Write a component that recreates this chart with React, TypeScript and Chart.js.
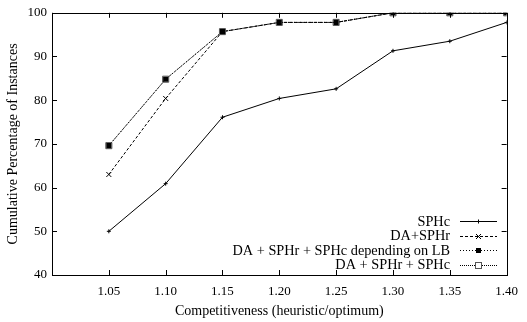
import React, { useEffect, useRef } from "react";
import { Chart, registerables } from "chart.js";
Chart.register(...registerables);

const competitiveness = [1.05, 1.1, 1.15, 1.2, 1.25, 1.3, 1.35, 1.4];
const sphc = [50.0, 60.9, 76.1, 80.4, 82.6, 91.3, 93.5, 97.8];
const daSphr = [63.0, 80.4, 95.7, 97.8, 97.8, 100, 100, 100];
const daSphrSphcLB = [69.6, 84.8, 95.7, 97.8, 97.8, 100, 100, 100];
const daSphrSphc = [69.6, 84.8, 95.7, 97.8, 97.8, 100, 100, 100];
const seriesNames = [
  "SPHc",
  "DA+SPHr",
  "DA + SPHr + SPHc depending on LB",
  "DA + SPHr + SPHc",
];
const xTitle = "Competitiveness (heuristic/optimum)";
const yTitle = "Cumulative Percentage of Instances";

const FONT = "'Liberation Serif', 'DejaVu Serif', serif";

type Marker = "plus" | "x" | "fsquare" | "osquare";
const markers: Marker[] = ["plus", "x", "fsquare", "osquare"];
const dashes: number[][] = [[], [3, 2], [1, 2], [1, 1]];

function drawMarker(ctx: CanvasRenderingContext2D, m: Marker, x: number, y: number) {
  ctx.save();
  ctx.setLineDash([]);
  ctx.strokeStyle = "#000";
  ctx.fillStyle = "#000";
  ctx.lineWidth = 1;
  ctx.beginPath();
  if (m === "plus") {
    ctx.moveTo(x - 2, y);
    ctx.lineTo(x + 2, y);
    ctx.moveTo(x, y - 2);
    ctx.lineTo(x, y + 2);
    ctx.stroke();
  } else if (m === "x") {
    ctx.moveTo(x - 2.5, y - 2.5);
    ctx.lineTo(x + 2.5, y + 2.5);
    ctx.moveTo(x - 2.5, y + 2.5);
    ctx.lineTo(x + 2.5, y - 2.5);
    ctx.stroke();
  } else if (m === "fsquare") {
    ctx.fillRect(x - 2.5, y - 2.5, 5, 5);
  } else {
    ctx.fillStyle = "#fff";
    ctx.fillRect(x - 3, y - 3, 6, 6);
    ctx.strokeStyle = "#555";
    ctx.strokeRect(x - 3, y - 3, 6, 6);
  }
  ctx.restore();
}

const framePlugin = {
  id: "frame",
  afterDatasetsDraw(chart: any) {
    const { ctx, chartArea } = chart;
    const { left, right, top, bottom } = chartArea;
    ctx.save();
    ctx.strokeStyle = "#000";
    ctx.lineWidth = 1;
    ctx.setLineDash([]);
    ctx.strokeRect(Math.round(left) + 0.5, Math.round(top) + 0.5, Math.round(right - left), Math.round(bottom - top));
    const xs = chart.scales.x;
    const ys = chart.scales.y;
    ctx.beginPath();
    xs.ticks.forEach((t: any) => {
      const px = Math.round(xs.getPixelForValue(t.value)) + 0.5;
      ctx.moveTo(px, bottom);
      ctx.lineTo(px, bottom - 5);
      ctx.moveTo(px, top);
      ctx.lineTo(px, top + 5);
    });
    ys.ticks.forEach((t: any) => {
      const py = Math.round(ys.getPixelForValue(t.value)) + 0.5;
      ctx.moveTo(left, py);
      ctx.lineTo(left + 5, py);
      ctx.moveTo(right, py);
      ctx.lineTo(right - 5, py);
    });
    ctx.stroke();
    ctx.restore();
  },
  afterDraw(chart: any) {
    const { ctx } = chart;
    ctx.save();
    ctx.font = "14.3px " + FONT;
    ctx.fillStyle = "#000";
    ctx.textAlign = "right";
    ctx.textBaseline = "middle";
    const rows = [221, 235.5, 250, 264.5];
    seriesNames.forEach((name, i) => {
      const y = rows[i];
      ctx.fillText(name, 450, y + 1);
      ctx.beginPath();
      ctx.strokeStyle = "#000";
      ctx.lineWidth = 1;
      ctx.setLineDash(dashes[i]);
      ctx.moveTo(460, Math.round(y) + 0.5);
      ctx.lineTo(497, Math.round(y) + 0.5);
      ctx.stroke();
      drawMarker(ctx, markers[i], 478.5, Math.round(y) + 0.5);
    });
    ctx.restore();
  },
};

export default function App() {
  const ref = useRef<HTMLCanvasElement>(null);
  useEffect(() => {
    if (!ref.current) return;
    const mk = (data: number[], i: number, style: any, order: number) => ({
      label: seriesNames[i],
      data: competitiveness.map((x, k) => ({ x, y: data[k] })),
      borderColor: "#000",
      backgroundColor: "#000",
      borderWidth: 1,
      borderDash: dashes[i],
      tension: 0,
      order,
      ...style,
    });
    const chart = new Chart(ref.current, {
      type: "line",
      data: {
        datasets: [
          mk(sphc, 0, { pointStyle: "cross", pointRadius: 2, pointBorderWidth: 1 }, 3),
          mk(daSphr, 1, { pointStyle: "crossRot", pointRadius: 3.5, pointBorderWidth: 1 }, 2),
          mk(daSphrSphcLB, 2, { pointStyle: "rect", pointRadius: 3.6, pointBackgroundColor: "#000", pointBorderColor: "#000", pointBorderWidth: 0 }, 0),
          mk(daSphrSphc, 3, { pointStyle: "rect", pointRadius: 4.3, pointBackgroundColor: "#fff", pointBorderColor: "#555", pointBorderWidth: 1 }, 1),
        ],
      },
      options: {
        responsive: false,
        animation: false,
        layout: { padding: { top: 11, right: 13, left: 0, bottom: 0 } },
        plugins: { legend: { display: false }, tooltip: { enabled: false } },
        scales: {
          x: {
            type: "linear",
            min: 1.0,
            max: 1.4,
            grid: { display: false, drawTicks: false },
            border: { display: false },
            ticks: {
              stepSize: 0.05,
              padding: 9,
              color: "#000",
              font: { family: FONT, size: 13 },
              maxRotation: 0,
              autoSkip: false,
              callback: (v: any) => (Math.abs(Number(v) - 1.0) < 1e-6 ? "" : Number(v).toFixed(2)),
            },
            title: { display: true, text: xTitle, color: "#000", font: { family: FONT, size: 14 }, padding: { top: 0, bottom: 2 } },
            afterFit: (s: any) => { s.height = 47; },
          },
          y: {
            type: "linear",
            min: 40,
            max: 100,
            grid: { display: false, drawTicks: false },
            border: { display: false },
            ticks: {
              stepSize: 10,
              padding: 5,
              color: "#000",
              font: { family: FONT, size: 13 },
            },
            title: { display: true, text: yTitle, color: "#000", font: { family: FONT, size: 14 }, padding: { top: 5, bottom: 0 } },
            afterFit: (s: any) => { s.width = 52; },
          },
        },
      },
      plugins: [framePlugin],
    });
    return () => chart.destroy();
  }, []);
  return (
    <div style={{ position: "fixed", left: 0, top: 0, width: 527, height: 322, background: "#fff" }}>
      <canvas ref={ref} width={527} height={322} />
    </div>
  );
}
